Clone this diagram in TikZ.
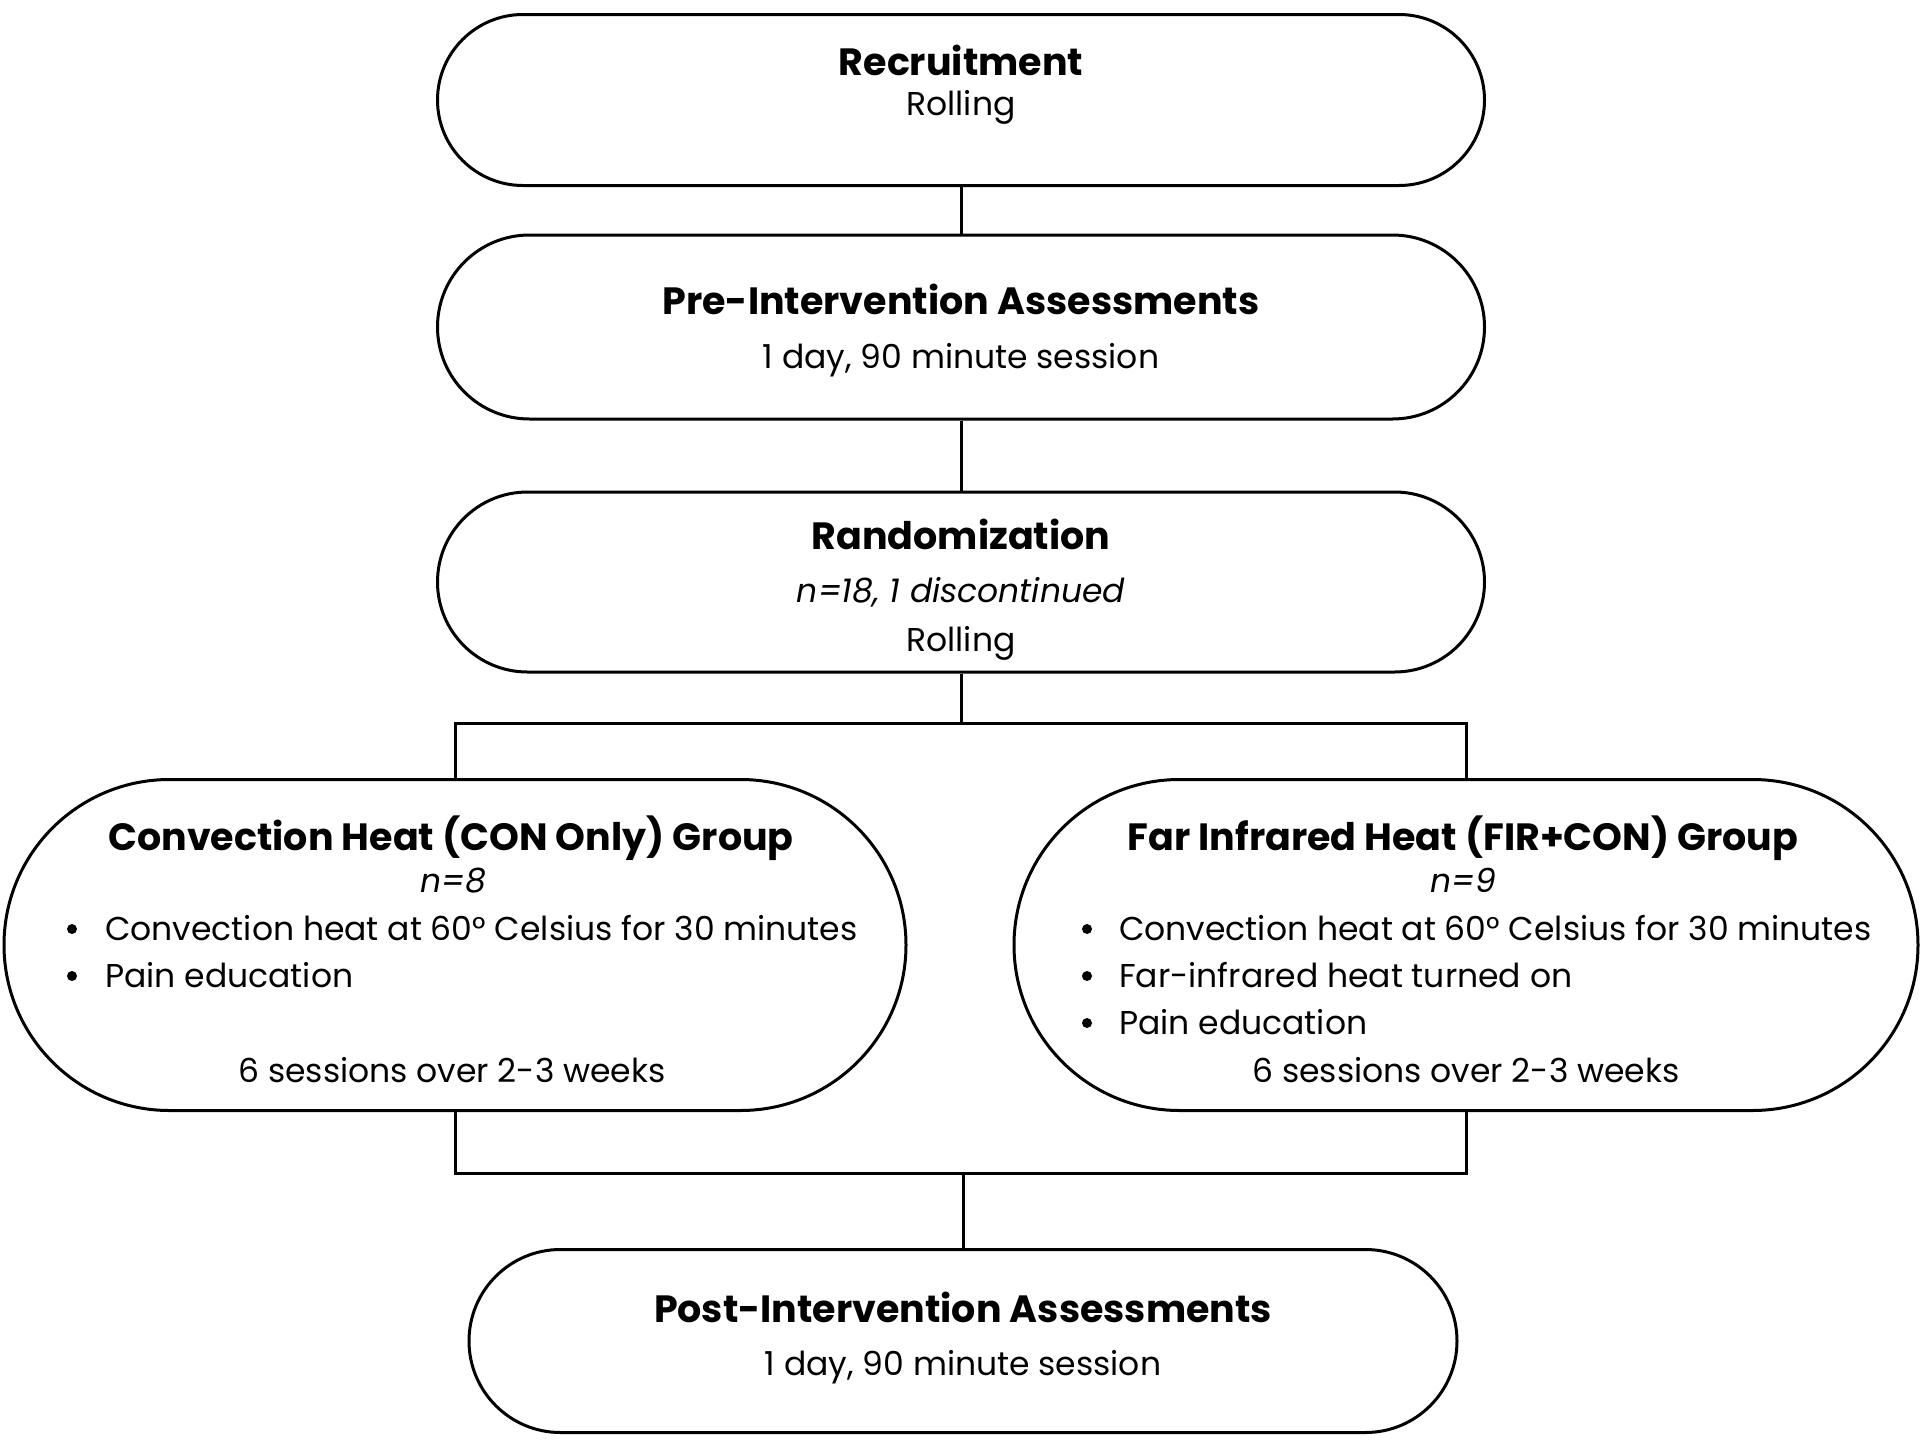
\documentclass[tikz,border=0pt]{standalone}
\usepackage{fontspec}
\setmainfont{Poppins}
\usetikzlibrary{shapes.misc}
\tikzset{
% pill shaped stage boxes, outline only
stage/.style={rounded rectangle, draw, line width=3pt, inner sep=0pt},
% the texts that sit in the stages
headtext/.style={anchor=base, inner sep=0pt, yshift=-2pt, font=\fontsize{38}{44}\selectfont\bfseries},
subtext/.style={anchor=base, inner sep=0pt, yshift=-2pt, font=\fontsize{33}{38}\selectfont},
ntext/.style={subtext, font=\fontsize{33}{38}\selectfont\itshape},
itemtext/.style={subtext, anchor=base west},
dottext/.style={circle, fill, inner sep=0pt, yshift=-2pt, minimum size=10pt},
link/.style={line width=3pt}
}

\begin{document}
\begin{tikzpicture}[x=1pt,y=-1pt]
  \useasboundingbox (0,0) rectangle (1920,1443);

  % stages
  \node[stage, minimum width=1047pt, minimum height=171pt] (rec) at (961,100) {};
  \node[stage, minimum width=1047pt, minimum height=184pt] (pre) at (961,327) {};
  \node[stage, minimum width=1047pt, minimum height=180pt] (rand) at (961,582) {};
  \node[stage, minimum width=902pt, minimum height=331pt] (con) at (455,945) {};
  \node[stage, minimum width=904pt, minimum height=331pt] (fir) at (1466,945) {};
  \node[stage, minimum width=988pt, minimum height=183pt] (post) at (963,1341) {};

  % texts
  \node[headtext] (recT) at (961,73) {Recruitment};
  \node[subtext] (recS) at (961,113) {Rolling};

  \node[headtext] (preT) at (961,312) {Pre-Intervention Assessments};
  \node[subtext] (preS) at (961,366) {1 day, 90 minute session};

  \node[headtext] (randT) at (961,547) {Randomization};
  \node[ntext] (randN) at (961,600) {n=18, 1 discontinued};
  \node[subtext] (randS) at (961,649) {Rolling};

  \node[headtext] (conT) at (451,848) {Convection Heat (CON Only) Group};
  \node[ntext] (conN) at (453,890) {n=8};
  \node[dottext] (conD1) at (72,927) {};
  \node[itemtext] (conI1) at (105,938) {Convection heat at 60° Celsius for 30 minutes};
  \node[dottext] (conD2) at (72,974) {};
  \node[itemtext] (conI2) at (105,985) {Pain education};
  \node[subtext] (conS) at (452,1080) {6 sessions over 2-3 weeks};

  \node[headtext] (firT) at (1463,848) {Far Infrared Heat (FIR+CON) Group};
  \node[ntext] (firN) at (1463,890) {n=9};
  \node[dottext] (firD1) at (1087,927) {};
  \node[itemtext] (firI1) at (1119,938) {Convection heat at 60° Celsius for 30 minutes};
  \node[dottext] (firD2) at (1087,974) {};
  \node[itemtext] (firI2) at (1119,985) {Far-infrared heat turned on};
  \node[dottext] (firD3) at (1087,1021) {};
  \node[itemtext] (firI3) at (1119,1032) {Pain education};
  \node[subtext] (firS) at (1466,1080) {6 sessions over 2-3 weeks};

  \node[headtext] (postT) at (963,1320) {Post-Intervention Assessments};
  \node[subtext] (postS) at (963,1373) {1 day, 90 minute session};

  % connectors
  \coordinate (split) at (961,723);
  \coordinate (join) at (963,1173);
  \draw[link] (rec.south) -- (pre.north);
  \draw[link] (pre.south) -- (rand.north);
  \draw[link] (rand.south) -- (split);
  \draw[link] (con.north) |- (split) -| (fir.north);
  \draw[link] (con.south) |- (join) -| (fir.south);
  \draw[link] (join) -- (post.north);
\end{tikzpicture}
\end{document}
